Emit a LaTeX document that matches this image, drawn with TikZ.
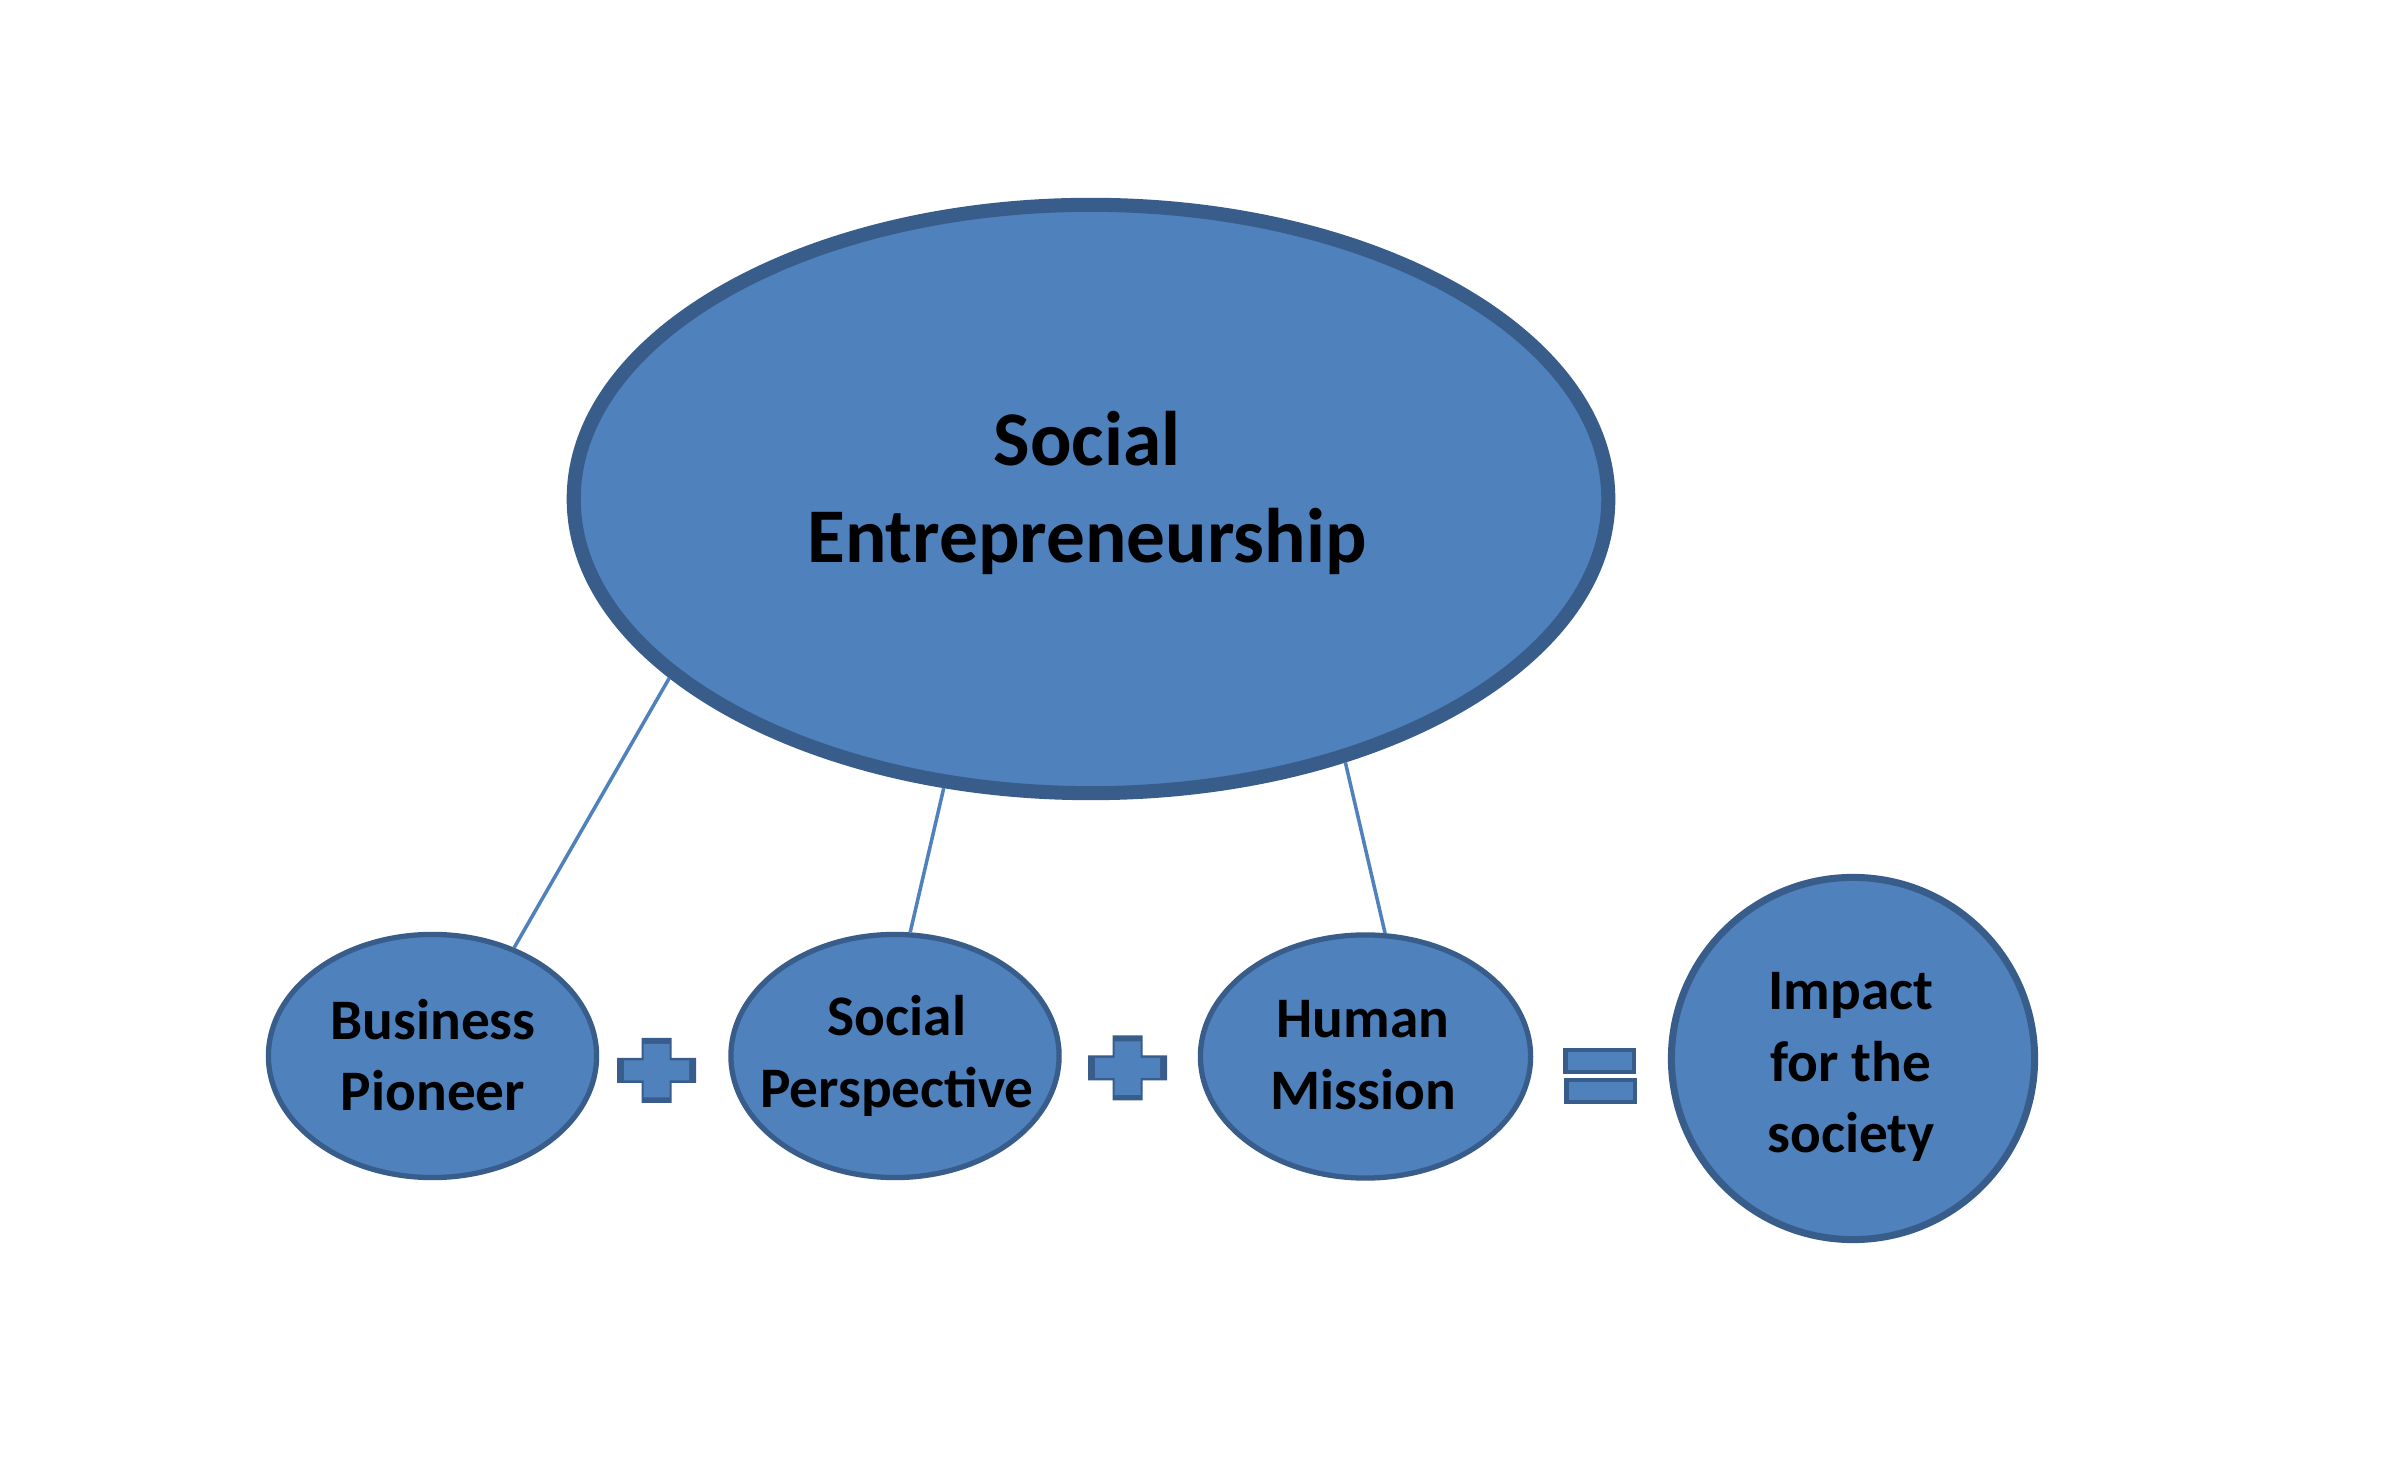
\documentclass[tikz,border=0pt]{standalone}
\usepackage{fontspec}
\setmainfont{Carlito}
\usetikzlibrary{shapes.geometric}
\definecolor{fillblue}{HTML}{4F81BD}
\definecolor{edgeblue}{HTML}{385D8A}
\begin{document}
\begin{tikzpicture}[x=0.01cm,y=-0.01cm,
  bubble/.style={ellipse, fill=fillblue, draw=edgeblue, line width=1.5pt, inner sep=0pt},
  label/.style={align=center, text=black, inner sep=0pt, font=\bfseries\fontsize{16.3}{20.3}\selectfont},
  link/.style={draw=fillblue, line width=1pt},
  plussign/.pic={
    \fill[edgeblue] (-15,-32.5) -- (15,-32.5) -- (15,-12.5) -- (39.5,-12.5) -- (39.5,12.5) -- (15,12.5) -- (15,32.5) -- (-15,32.5) -- (-15,12.5) -- (-39.5,12.5) -- (-39.5,-12.5) -- (-15,-12.5) -- cycle;
    \fill[fillblue] (-13,-26.5) -- (13,-26.5) -- (13,-10) -- (32.5,-10) -- (32.5,10) -- (13,10) -- (13,27) -- (-13,27) -- (-13,10) -- (-32.5,10) -- (-32.5,-10) -- (-13,-10) -- cycle;
  }]
\useasboundingbox[fill=white] (0,0) rectangle (2400,1480);

\node[bubble, line width=4pt, minimum width=10.34cm, minimum height=5.88cm] (se) at (1091,499) {};

\node[bubble, minimum width=3.28cm, minimum height=2.43cm] (bp) at (432.5,1056) {};
\node[bubble, minimum width=3.28cm, minimum height=2.43cm] (sp) at (895,1056) {};
\node[bubble, minimum width=3.30cm, minimum height=2.43cm] (hm) at (1365.5,1056.5) {};
\node[bubble, line width=2pt, minimum width=3.63cm, minimum height=3.62cm] (im) at (1853,1058.5) {};

\draw[link] (se.203) -- (bp.53);
\draw[link] (se.243.7) -- (sp.83);
\draw[link] (se.314.4) -- (hm.81.5);

\node[label, font=\bfseries\fontsize{22}{27.6}\selectfont] (setext) at (1087,493) {Social\\Entrepreneurship};
\node[label] (bptext) at (433,1055) {Business\\Pioneer};
\node[label] (sptext) at (897,1056) {Social\\Perspective};
\node[label] (hmtext) at (1363,1055) {Human\\Mission};
\node[label] (imtext) at (1851,1067) {Impact\\for the\\society};

\pic at (656.5,1070.5) {plussign};
\pic at (1127.5,1068) {plussign};

\fill[edgeblue] (1563,1048) rectangle (1636,1074);
\fill[fillblue] (1568,1052) rectangle (1632,1070);
\fill[edgeblue] (1564,1078) rectangle (1637,1104);
\fill[fillblue] (1569,1082) rectangle (1633,1100);
\end{tikzpicture}
\end{document}
